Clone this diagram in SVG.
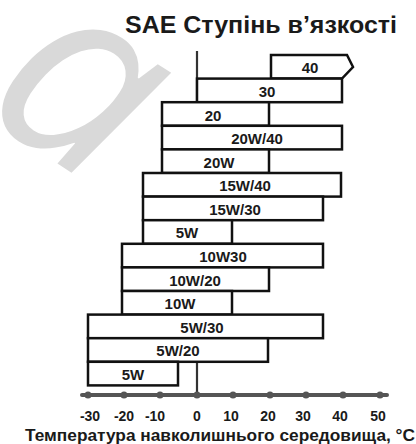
<svg xmlns="http://www.w3.org/2000/svg" width="416" height="444" viewBox="0 0 416 444">
<style>
.bar{fill:#fff;stroke:#111;stroke-width:2.5;stroke-linejoin:miter}
.lbl{font-family:"Liberation Sans",Arial,sans-serif;font-weight:bold;font-size:15px;fill:#1a1a1a;text-anchor:middle}
.tick{font-family:"Liberation Sans",Arial,sans-serif;font-weight:bold;font-size:14px;fill:#1a1a1a;text-anchor:middle}
</style>
<rect width="416" height="444" fill="#fff"/>
<text x="0" y="0" transform="translate(-22,112) rotate(33)" font-family="'Open Sans',sans-serif" font-style="italic" font-size="258" fill="#d9d9d9">a</text>
<text x="261" y="33" font-family="'Liberation Sans',Arial,sans-serif" font-weight="bold" font-size="24" fill="#1a1a1a" text-anchor="middle" textLength="272" lengthAdjust="spacingAndGlyphs">SAE Ступінь в’язкості</text>
<g id="axis">
<line x1="197" y1="51" x2="197" y2="395" stroke="#333" stroke-width="2.2"/>
<line x1="82" y1="395" x2="387" y2="395" stroke="#555" stroke-width="4" stroke-linecap="round"/>
<g fill="#555">
<circle cx="88" cy="395" r="3.5"/><circle cx="124" cy="395" r="3.5"/><circle cx="160" cy="395" r="3.5"/><circle cx="197" cy="395" r="3.5"/><circle cx="233" cy="395" r="3.5"/><circle cx="270" cy="395" r="3.5"/><circle cx="306" cy="395" r="3.5"/><circle cx="343" cy="395" r="3.5"/><circle cx="380" cy="395" r="3.5"/>
</g>
<text class="tick" x="90" y="421">-30</text><text class="tick" x="124" y="421">-20</text><text class="tick" x="155" y="421">-10</text><text class="tick" x="197" y="421">0</text><text class="tick" x="231" y="421">10</text><text class="tick" x="268" y="421">20</text><text class="tick" x="303" y="421">30</text><text class="tick" x="340" y="421">40</text><text class="tick" x="378" y="421">50</text>
</g>
<g id="connectors"></g>
<g id="sae40"><polygon class="bar" points="271,55 347,55 353,67 342,78.6 271,78.6"/><text class="lbl" x="310" y="73">40</text></g>
<g id="sae30"><rect class="bar" x="197" y="78.6" width="145" height="23.6"/><text class="lbl" x="267" y="97">30</text></g>
<g id="sae20"><rect class="bar" x="162" y="102.2" width="107" height="23.6"/><text class="lbl" x="213" y="121">20</text></g>
<g id="sae20w40"><rect class="bar" x="162" y="125.8" width="180" height="23.6"/><text class="lbl" x="257" y="144">20W/40</text></g>
<g id="sae20w"><rect class="bar" x="162" y="149.4" width="107" height="23.6"/><text class="lbl" x="219" y="168">20W</text></g>
<g id="sae15w40"><rect class="bar" x="143" y="173" width="198" height="23.6"/><text class="lbl" x="245" y="191">15W/40</text></g>
<g id="sae15w30"><rect class="bar" x="143" y="196.6" width="180" height="23.6"/><text class="lbl" x="235" y="215">15W/30</text></g>
<g id="sae5w-mid"><rect class="bar" x="143" y="220.2" width="89" height="23.6"/><text class="lbl" x="187" y="238">5W</text></g>
<g id="sae10w30"><rect class="bar" x="122" y="243.8" width="201" height="23.6"/><text class="lbl" x="223" y="262">10W30</text></g>
<g id="sae10w20"><rect class="bar" x="122" y="267.4" width="147" height="23.6"/><text class="lbl" x="195" y="286">10W/20</text></g>
<g id="sae10w"><rect class="bar" x="122" y="291" width="110" height="23.6"/><text class="lbl" x="180" y="309">10W</text></g>
<g id="sae5w30"><rect class="bar" x="88" y="314.6" width="235" height="23.6"/><text class="lbl" x="202" y="333">5W/30</text></g>
<g id="sae5w20"><rect class="bar" x="88" y="338.2" width="180" height="23.6"/><text class="lbl" x="178" y="356">5W/20</text></g>
<g id="sae5w"><rect class="bar" x="88" y="361.8" width="90" height="23.6"/><text class="lbl" x="133" y="380">5W</text></g>
<text x="220" y="441" font-family="'Liberation Sans',Arial,sans-serif" font-weight="bold" font-size="16" fill="#1a1a1a" text-anchor="middle" textLength="390" lengthAdjust="spacingAndGlyphs">Температура навколишнього середовища, °C</text>
</svg>
